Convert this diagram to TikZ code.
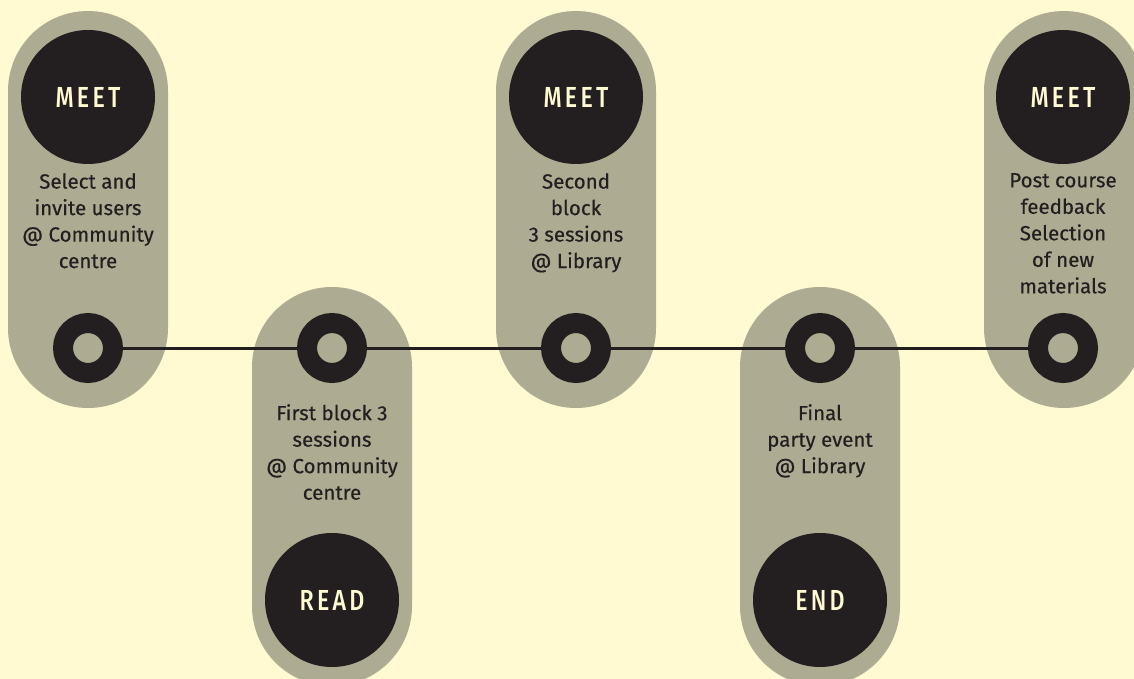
\documentclass[tikz,border=0pt]{standalone}
\usepackage{fontspec}
\setmainfont{Fira Sans}
\newfontfamily\stepfont{Fira Sans}[FakeBold=0.35]
\newfontfamily\tagfont{Fira Sans Medium}[LetterSpace=14]
\usetikzlibrary{positioning}
\definecolor{paper}{HTML}{FFFAD2}
\definecolor{pillgrey}{HTML}{ADAC92}
\definecolor{ink}{HTML}{231F20}
\newcommand{\tagtext}[1]{\scalebox{0.8}[1]{#1}}

\begin{document}
\begin{tikzpicture}[x=1pt, y=-1pt,
  pill/.style={fill=pillgrey, rounded corners=80pt},
  tag/.style={circle, fill=ink, minimum size=134pt, inner sep=0pt, text=paper,
    font=\tagfont\fontsize{29}{29}\selectfont},
  ring/.style={circle, draw=ink, line width=20pt, fill=pillgrey, minimum size=50pt, inner sep=0pt},
  desc/.style={align=center, inner sep=0pt, text=ink, anchor=north,
    font=\stepfont\fontsize{20.5}{26.5}\selectfont},
  link/.style={ink, line width=3pt}]
\fill[paper] (0,0) rectangle (1134,679);
\useasboundingbox (0,0) rectangle (1134,679);
\clip (0,0) rectangle (1134,679);

% the five pills
\fill[pill] (8,11) rectangle (168,408);
\fill[pill] (252,287) rectangle (412,686);
\fill[pill] (496,11) rectangle (656,408);
\fill[pill] (740,287) rectangle (900,686);
\fill[pill] (984,11) rectangle (1144,408);

\node[tag] (meetA) at (88,97) {\tagtext{MEET}};
\node[desc] (selectA) at (88,173) {Select and\\invite users\\@ Community\\centre};
\node[ring] (ringA) at (88,348) {};

\node[ring] (ringB) at (332,348) {};
\node[desc] (firstB) at (332,404) {First block 3\\sessions\\@ Community\\centre};
\node[tag] (readB) at (332,600) {\tagtext{READ}};

\node[tag] (meetC) at (576,97) {\tagtext{MEET}};
\node[desc] (secondC) at (576,173) {Second\\block\\3 sessions\\@ Library};
\node[ring] (ringC) at (576,348) {};

\node[ring] (ringD) at (820,348) {};
\node[desc] (finalD) at (820,404) {Final\\party event\\@ Library};
\node[tag] (endD) at (820,600) {\tagtext{END}};

\node[tag] (meetE) at (1063,97) {\tagtext{MEET}};
\node[desc] (postE) at (1063,173) {Post course\\feedback\\Selection\\of new\\materials};
\node[ring] (ringE) at (1063,348) {};

\draw[link] (ringA) -- (ringB) (ringB) -- (ringC) (ringC) -- (ringD) (ringD) -- (ringE);
\end{tikzpicture}
\end{document}
